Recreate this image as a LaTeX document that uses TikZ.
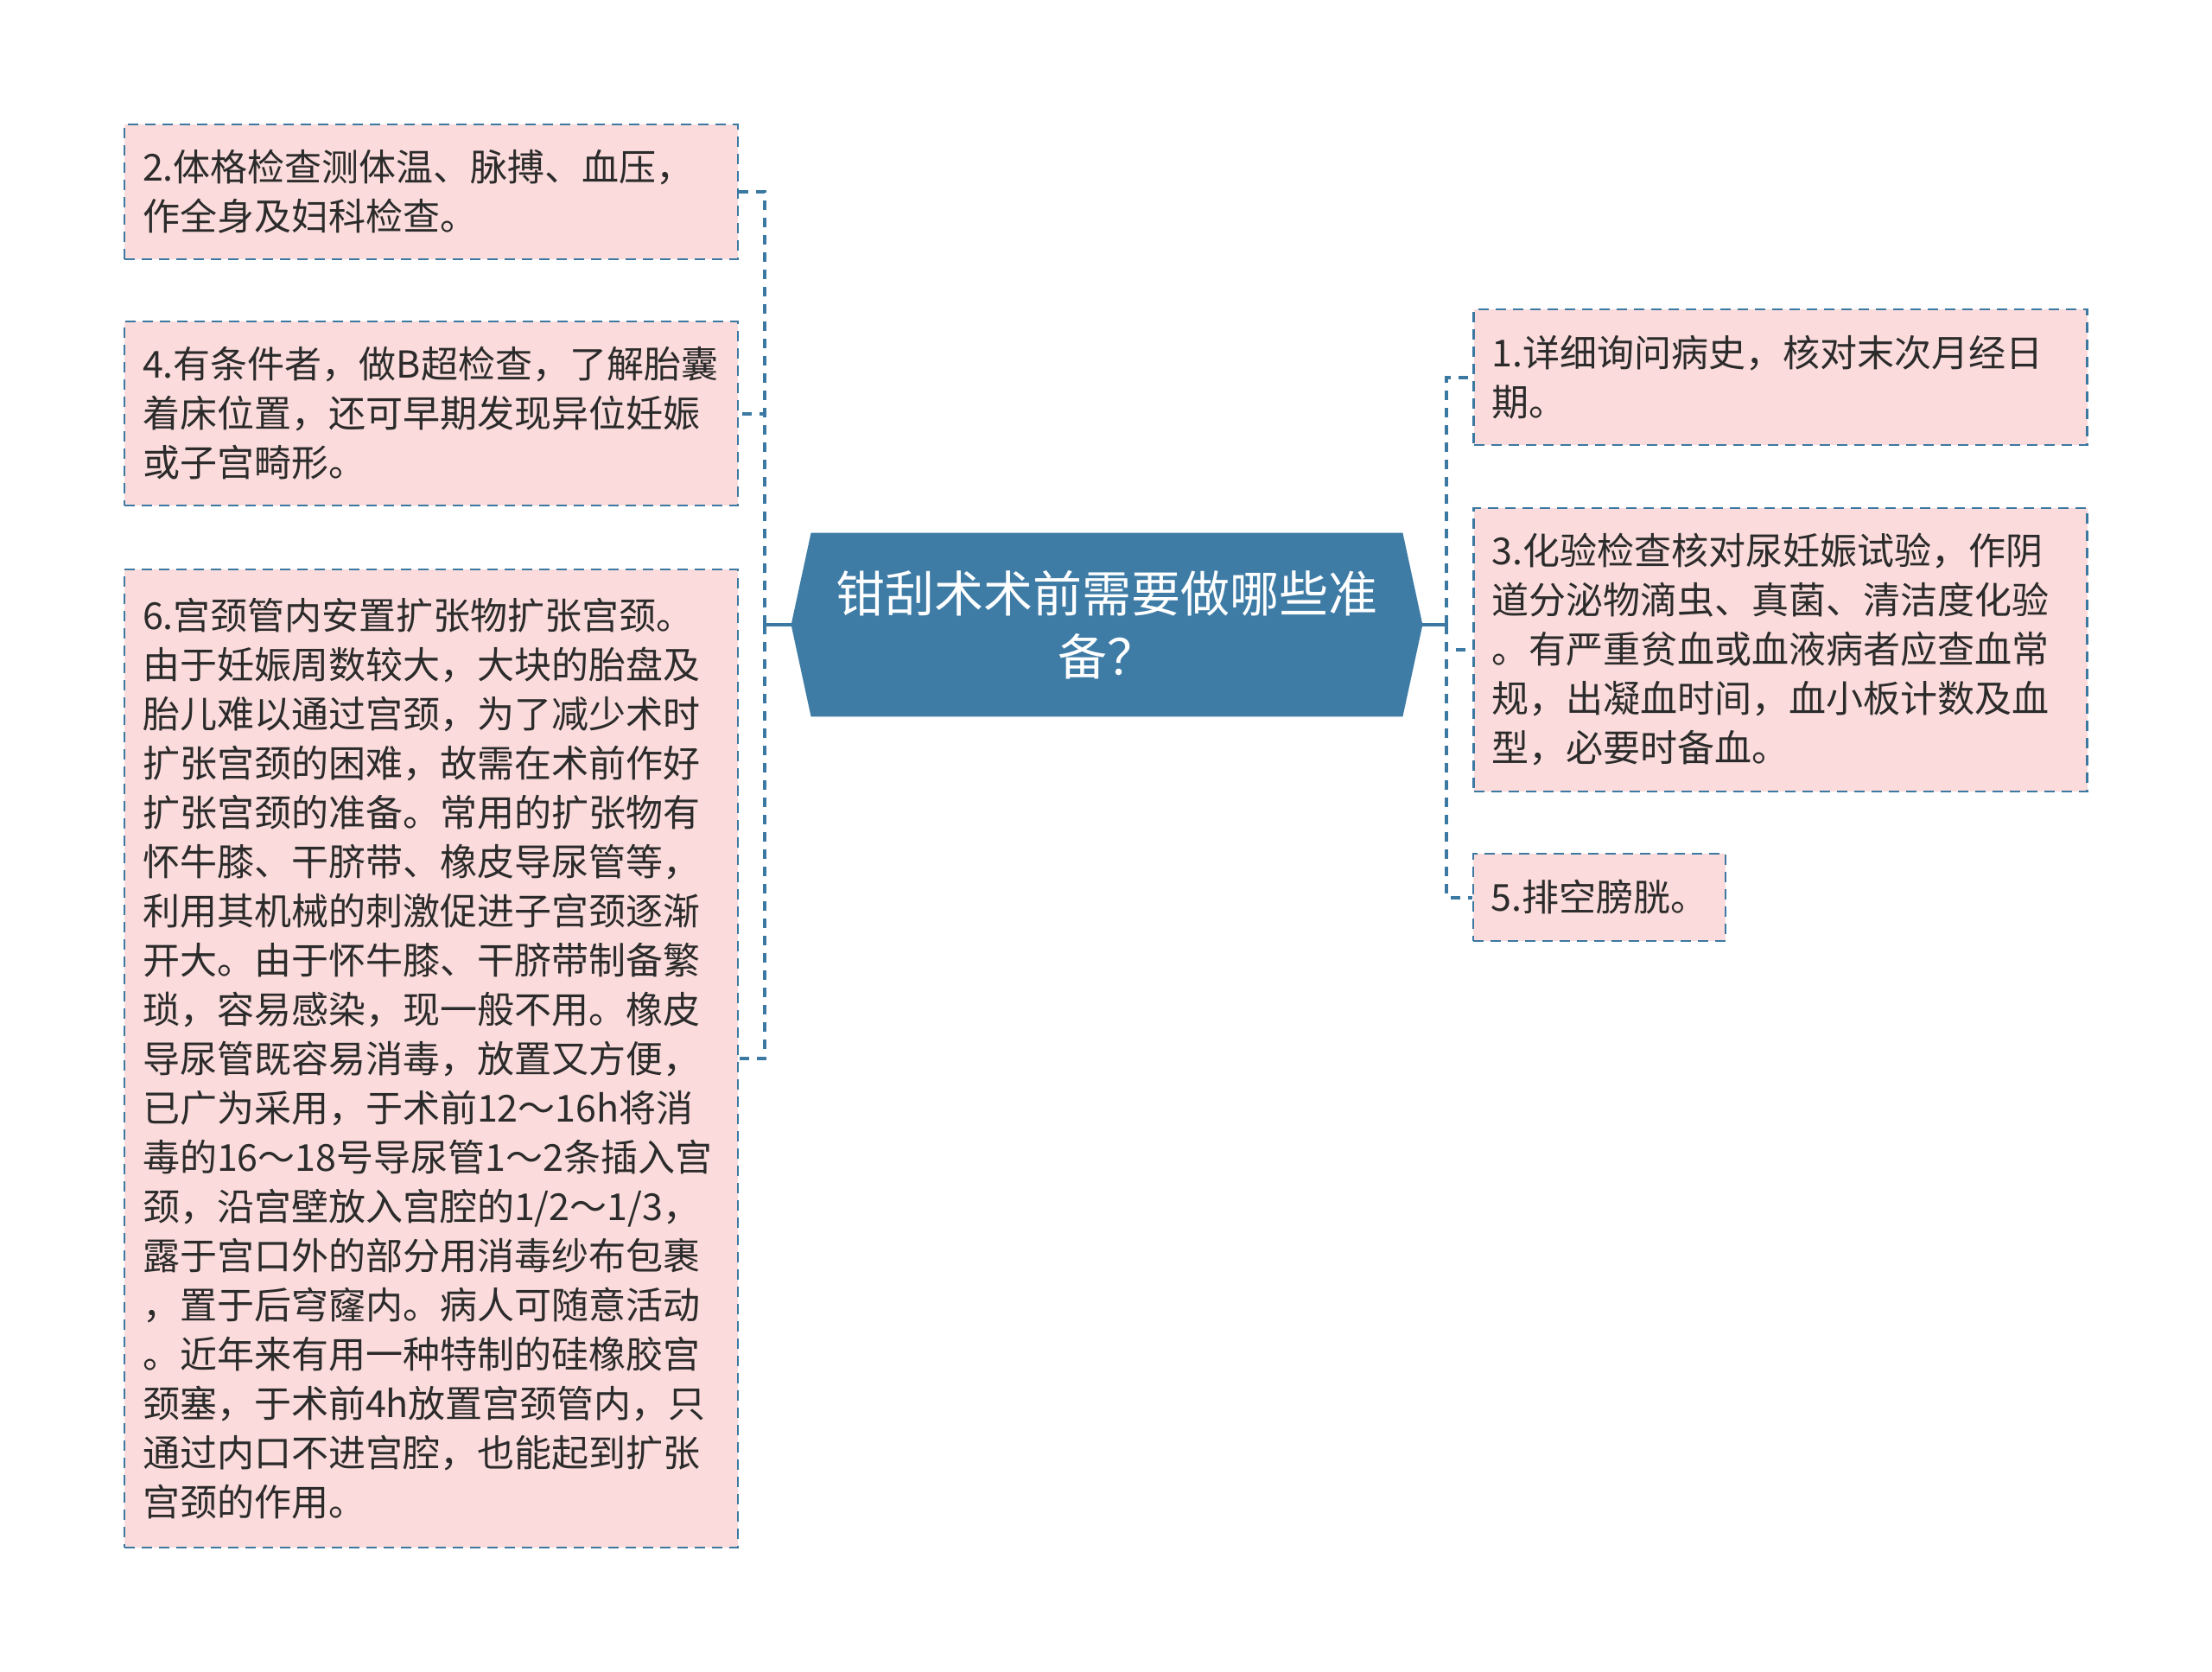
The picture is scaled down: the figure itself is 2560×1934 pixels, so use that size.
\documentclass[tikz,border=0pt]{standalone}
\usepackage{fontspec}
\setmainfont{Noto Sans CJK SC}
\usetikzlibrary{backgrounds}
\definecolor{mblue}{HTML}{3E7CA6}
\definecolor{mline}{HTML}{3B78A2}
\definecolor{mpink}{HTML}{FBDBDB}
\definecolor{mtext}{HTML}{2B2B2B}
\begin{document}
\begin{tikzpicture}[x=0.5pt,y=-0.5pt,
  leaf/.style={draw=mline, line width=1.2pt, dash pattern=on 6pt off 4pt,
    fill=mpink, text=mtext, font=\fontsize{21.5pt}{28.5pt}\selectfont,
    align=left, inner sep=0pt, minimum width=355pt, text width=334pt},
  leafshort/.style={draw=mline, line width=1.2pt, dash pattern=on 6pt off 4pt,
    fill=mpink, text=mtext, font=\fontsize{21.5pt}{28.5pt}\selectfont,
    align=left, inner sep=0pt, minimum width=146pt},
  rootlabel/.style={text=white, font=\fontsize{28.5pt}{36.5pt}\selectfont,
    align=center, inner sep=0pt, minimum width=342pt, minimum height=106pt},
  conn/.style={draw=mline, line width=2pt, dash pattern=on 5.5pt off 4.5pt},
  connsolid/.style={draw=mline, line width=2pt}
]
\useasboundingbox (0,0) rectangle (2560,1934);

% root
\node[rootlabel] (root) at (1281,723) {钳刮术术前需要做哪些准\\备？};
\begin{scope}[on background layer]
  \fill[white] (0,0) rectangle (2560,1934);
  \fill[mblue] (root.north west) -- (root.north east) -- ([xshift=11.5pt]root.east)
    -- (root.south east) -- (root.south west) -- ([xshift=-11.5pt]root.west) -- cycle;
\end{scope}

% left boxes
\node[leaf, minimum height=78pt] (b2) at (499,222) {2.体格检查测体温、脉搏、血压，\\作全身及妇科检查。};
\node[leaf, minimum height=106.5pt] (b4) at (499,478.5) {4.有条件者，做B超检查，了解胎囊\\着床位置，还可早期发现异位妊娠\\或子宫畸形。};
\node[leaf, minimum height=566pt] (b6) at (499,1225) {6.宫颈管内安置扩张物扩张宫颈。\\由于妊娠周数较大，大块的胎盘及\\胎儿难以通过宫颈，为了减少术时\\扩张宫颈的困难，故需在术前作好\\扩张宫颈的准备。常用的扩张物有\\怀牛膝、干脐带、橡皮导尿管等，\\利用其机械的刺激促进子宫颈逐渐\\开大。由于怀牛膝、干脐带制备繁\\琐，容易感染，现一般不用。橡皮\\导尿管既容易消毒，放置又方便，\\已广为采用，于术前12～16h将消\\毒的16～18号导尿管1～2条插入宫\\颈，沿宫壁放入宫腔的1/2～1/3，\\露于宫口外的部分用消毒纱布包裹\\，置于后穹窿内。病人可随意活动\\。近年来有用一种特制的硅橡胶宫\\颈塞，于术前4h放置宫颈管内，只\\通过内口不进宫腔，也能起到扩张\\宫颈的作用。};

% right boxes
\node[leaf, minimum height=78.5pt] (b1) at (2060.5,436.5) {1.详细询问病史，核对末次月经日\\期。};
\node[leaf, minimum height=164pt] (b3) at (2060.5,752) {3.化验检查核对尿妊娠试验，作阴\\道分泌物滴虫、真菌、清洁度化验\\。有严重贫血或血液病者应查血常\\规，出凝血时间，血小板计数及血\\型，必要时备血。};
\node[leafshort, minimum height=50.5pt] (b5) at (1851,1038.5) {5.排空膀胱。};

% connectors
\coordinate (rootL) at ([xshift=-11.5pt]root.west);
\coordinate (rootR) at ([xshift=11.5pt]root.east);
\coordinate (lj) at (885,723);
\coordinate (rj) at (1674,723);
\draw[connsolid] (rootL) -- (lj);
\draw[connsolid] (rootR) -- (rj);
\draw[conn] (lj) |- (b2.east);
\draw[conn] (lj) |- (b4.east);
\draw[conn] (lj) |- (b6.east);
\draw[conn] (rj) |- (b1.west);
\draw[conn] (rj) |- (b3.west);
\draw[conn] (rj) |- (b5.west);
\end{tikzpicture}
\end{document}
